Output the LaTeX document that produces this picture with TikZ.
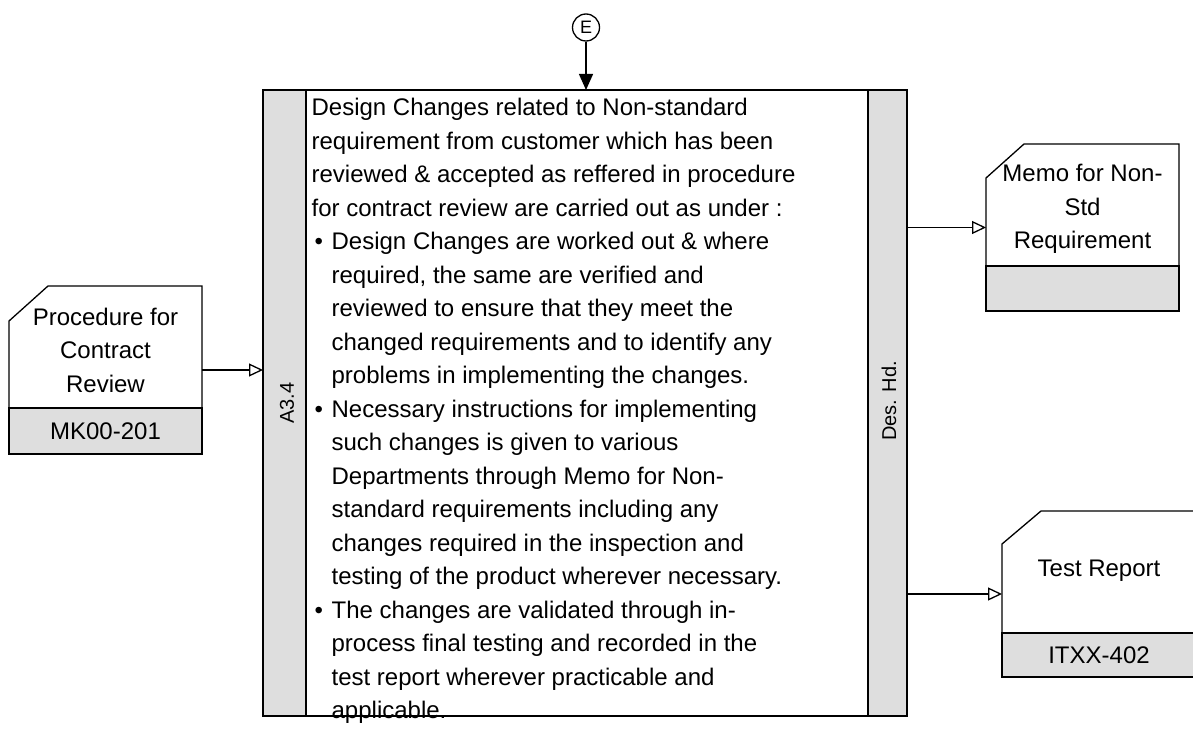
\documentclass[tikz,border=0pt]{standalone}
\usepackage{fontspec}
\setmainfont{Liberation Sans}
\usetikzlibrary{arrows.meta,calc}
\definecolor{bandgray}{RGB}{222,222,222}
\begin{document}
\begin{tikzpicture}[x=1pt,y=-1pt,line width=1.3pt,
  docframe/.style={inner sep=0pt,outer sep=0pt},
  doctext/.style={align=center,inner sep=0pt,font=\fontsize{24}{33.5}\selectfont},
  sidelabel/.style={rotate=90,inner sep=0pt,font=\fontsize{20}{20}\selectfont},
  flowarrow/.style={-{Triangle[open,length=14pt,width=13pt,fill=white]}},
  inarrow/.style={-{Triangle[length=16pt,width=14pt]}}]
\useasboundingbox (0,0) rectangle (1193,730);

% ---- main activity box with its two grey side strips ----
\node[docframe,minimum width=644pt,minimum height=626pt] (main) at (585,403) {};
\draw (main.north west) rectangle (main.south east);
\draw[fill=bandgray] (main.north west) rectangle ($(main.south west)+(43,0)$);
\draw[fill=bandgray] ($(main.north east)+(-39,0)$) rectangle (main.south east);
\node[sidelabel] (ref) at (287,403) {A3.4};
\node[sidelabel] (owner) at (889,401) {Des. Hd.};

% description text, placed by the baseline of its last line
\node[anchor=base west,align=left,inner sep=0pt,
      font=\fontsize{24}{33.5}\selectfont] (desc) at (311,718.5) {%
Design Changes related to Non-standard\\
requirement from customer which has been\\
reviewed \& accepted as reffered in procedure\\
for contract review are carried out as under :\\
\hspace*{3pt}\makebox[17pt][l]{\textbullet}Design Changes are worked out \& where\\
\hspace*{20pt}required, the same are verified and\\
\hspace*{20pt}reviewed to ensure that they meet the\\
\hspace*{20pt}changed requirements and to identify any\\
\hspace*{20pt}problems in implementing the changes.\\
\hspace*{3pt}\makebox[17pt][l]{\textbullet}Necessary instructions for implementing\\
\hspace*{20pt}such changes is given to various\\
\hspace*{20pt}Departments through Memo for Non-\\
\hspace*{20pt}standard requirements including any\\
\hspace*{20pt}changes required in the inspection and\\
\hspace*{20pt}testing of the product wherever necessary.\\
\hspace*{3pt}\makebox[17pt][l]{\textbullet}The changes are validated through in-\\
\hspace*{20pt}process final testing and recorded in the\\
\hspace*{20pt}test report wherever practicable and\\
\hspace*{20pt}applicable.};

% ---- off-page connector E ----
\node[draw,circle,minimum size=27pt,inner sep=0pt,
      font=\fontsize{18}{18}\selectfont] (E) at (586,27.5) {E};
\draw[inarrow] (E) -- (E |- main.north);

% ---- input document: Procedure for Contract Review ----
\node[docframe,minimum width=193pt,minimum height=168pt] (proc) at (105.5,370) {};
\draw[fill=white] ($(proc.north west)+(0,35)$) -- ($(proc.north west)+(39,0)$)
  -- (proc.north east) -- (proc.south east) -- (proc.south west) -- cycle;
\draw[fill=bandgray] ($(proc.south west)+(0,-46)$) rectangle (proc.south east);
\node[doctext] (procT) at (105.5,350) {Procedure for\\Contract\\Review};
\node[doctext] (procC) at (105.5,431) {MK00-201};
\draw[flowarrow] (proc.east) -- (proc.east -| main.west);

% ---- output document: Memo for Non-Std Requirement ----
\node[docframe,minimum width=193pt,minimum height=167pt] (memo) at (1082.5,227.5) {};
\draw[fill=white] ($(memo.north west)+(0,34)$) -- ($(memo.north west)+(38,0)$)
  -- (memo.north east) -- (memo.south east) -- (memo.south west) -- cycle;
\draw[fill=bandgray] ($(memo.south west)+(0,-45)$) rectangle (memo.south east);
\node[doctext] (memoT) at (1082.5,209) {Memo for Non-\\Std\\Requirement};
\draw[flowarrow] (memo.west -| main.east) -- (memo.west);

% ---- output document: Test Report ----
\node[docframe,minimum width=194pt,minimum height=166pt] (test) at (1099,594) {};
\draw[fill=white] ($(test.north west)+(0,33)$) -- ($(test.north west)+(39,0)$)
  -- (test.north east) -- (test.south east) -- (test.south west) -- cycle;
\draw[fill=bandgray] ($(test.south west)+(0,-44)$) rectangle (test.south east);
\node[doctext] (testT) at (1099,571) {Test Report};
\node[doctext] (testC) at (1099,655) {ITXX-402};
\draw[flowarrow] (test.west -| main.east) -- (test.west);
\end{tikzpicture}
\end{document}
